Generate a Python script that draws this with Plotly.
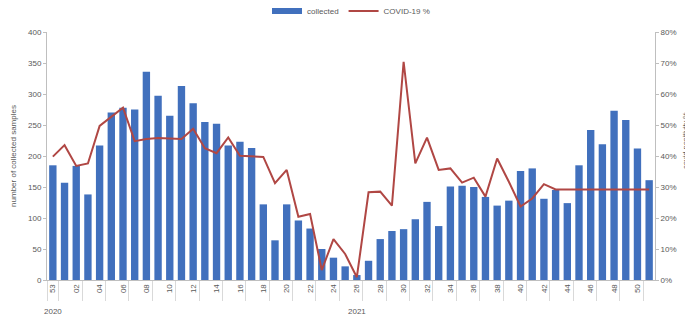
import plotly.graph_objects as go

# Week labels (2020 week 53, then 2021 weeks 01..51)
weeks = ["53"] + ["%02d" % w for w in range(1, 52)]

# Number of collected samples per week
collected = [185, 157, 184, 138, 217, 270, 278, 275, 336, 297,
             265, 313, 285, 255, 252, 217, 223, 213, 122, 64,
             122, 96, 83, 50, 36, 22, 8, 31, 66, 79,
             82, 98, 126, 87, 151, 152, 150, 134, 120, 128,
             176, 180, 131, 145, 124, 185, 242, 219, 273, 258,
             212, 161]

# COVID-19 positivity (%)
positivity = [39.8, 43.5, 36.8, 37.6, 49.7, 52.5, 55.6, 44.8, 45.5, 45.8,
              45.7, 45.5, 48.8, 42.5, 40.9, 46.0, 40.1, 40.0, 39.7, 31.2,
              35.5, 20.4, 21.3, 3.2, 13.2, 8.4, 0.9, 28.3, 28.5, 24.0,
              70.4, 37.6, 45.9, 35.5, 36.0, 31.4, 33.0, 26.9, 39.2, 31.7,
              23.7, 26.3, 30.9, 29.2, 29.2, 29.2, 29.2, 29.2, 29.2, 29.2,
              29.2, 29.2]

years = ["2020", "2021"]

idx = list(range(len(weeks)))
label_idx = idx[::2]
label_text = [weeks[i] for i in label_idx]
gray = "#595959"
axis_col = "#bfbfbf"
bar_col = "#4170bd"
line_col = "#b04744"

fig = go.Figure()
fig.add_trace(go.Bar(x=idx, y=collected, name="collected", showlegend=False,
                     marker=dict(color=bar_col, line=dict(width=0))))
# legend entry for the bars (wide flat swatch like the original)
fig.add_trace(go.Scatter(x=[None], y=[None], name="collected", mode="lines",
                         line=dict(color=bar_col, width=6)))
fig.add_trace(go.Scatter(x=idx, y=[p / 100 for p in positivity], name="COVID-19 %",
                         mode="lines", yaxis="y2",
                         line=dict(color=line_col, width=2)))

# page body has an 8px margin, so the figure is a bit smaller than the window
fig.update_layout(
    width=685, height=317,
    margin=dict(l=39, r=38, t=24, b=45, autoexpand=False),
    paper_bgcolor="white", plot_bgcolor="white",
    font=dict(family="Liberation Sans", size=8, color=gray),
    bargap=0.37,
    showlegend=True,
    legend=dict(orientation="h", x=0.5, xanchor="center", y=1.085, yanchor="middle",
                yref="paper", font=dict(size=8, color=gray), itemwidth=30,
                tracegroupgap=0, bgcolor="rgba(0,0,0,0)"),
    xaxis=dict(range=[-0.5, len(weeks) - 0.5], tickmode="array",
               tickvals=label_idx, ticktext=label_text, tickangle=-90,
               showline=True, linecolor=axis_col, ticks="", showgrid=False,
               zeroline=False, tickfont=dict(size=8, color=gray)),
    xaxis2=dict(range=[-0.5, len(weeks) - 0.5], overlaying="x", side="bottom",
                anchor="y", tickmode="array",
                tickvals=[i + 0.5 for i in range(0, len(weeks) - 1, 2)] + [-0.5],
                ticks="outside", ticklen=20, tickcolor="#d9d9d9",
                showticklabels=False, showgrid=False, zeroline=False),
    yaxis=dict(range=[0, 400], dtick=50, showline=True, linecolor=axis_col,
               ticks="outside", ticklen=3, tickcolor=axis_col, showgrid=False,
               zeroline=False, title=dict(text="number of collected samples",
                                          font=dict(size=8, color=gray), standoff=10)),
    yaxis2=dict(range=[0, 0.8], dtick=0.1, tickformat=".0%", overlaying="y",
                side="right", showline=True, linecolor=axis_col, ticks="outside",
                ticklen=3, tickcolor=axis_col, showgrid=False, zeroline=False),
)

# dummy trace so xaxis2 is drawn
fig.add_trace(go.Scatter(x=[0], y=[0], xaxis="x2", mode="markers",
                         marker=dict(opacity=0), showlegend=False, hoverinfo="skip"))

# right axis title
fig.add_annotation(x=1, xref="paper", y=0.56, yref="paper", xanchor="center",
                   xshift=30, text="covid positivity %", textangle=-90,
                   showarrow=False, font=dict(size=7.5, color=gray))

# year labels under the week labels (centred on their groups)
fig.add_annotation(x=0, y=-0.129, yref="paper", xref="x", text=years[0],
                   showarrow=False, yanchor="middle", font=dict(size=8, color=gray))
fig.add_annotation(x=26, y=-0.129, yref="paper", xref="x", text=years[1],
                   showarrow=False, yanchor="middle", font=dict(size=8, color=gray))

fig.write_html("out.html")
